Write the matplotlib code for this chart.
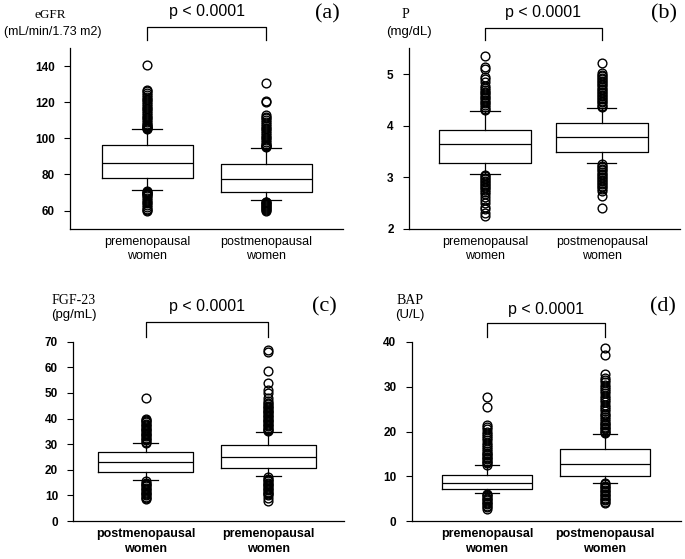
import matplotlib
matplotlib.use("Agg")
import matplotlib.pyplot as plt
import matplotlib.transforms as mtransforms

# ---- data ----
egfr_groups = ["premenopausal\nwomen", "postmenopausal\nwomen"]
egfr_q = [(78.1, 86.2, 96.5), (70.1, 77.4, 85.7)]          # q1, median, q3
egfr_whis = [(71.2, 104.9), (65.7, 94.6)]
egfr_fliers_pre = [105, 105.5, 106, 106.5, 107, 107.5, 108, 109, 110, 111, 112, 113, 114,
                   115, 116, 117, 118, 119, 120, 121, 122, 123, 124, 125, 126, 127, 140.5,
                   71, 70.5, 70, 69.5, 69, 68.5, 68, 67, 66, 65, 64, 63, 62, 61, 60.5, 60]
egfr_fliers_post = [95, 95.5, 96, 96.5, 97, 98, 99, 100, 101, 102, 103, 104, 105, 106, 107,
                    108, 109, 110, 111, 112, 113, 120, 120.5, 130.5,
                    65, 64.5, 64, 63.5, 63, 62.5, 62, 61.5, 61, 60.5, 60]

p_groups = ["premenopausal\nwomen", "postmenopausal\nwomen"]
p_q = [(3.28, 3.65, 3.92), (3.49, 3.78, 4.06)]
p_whis = [(3.07, 4.28), (3.27, 4.34)]
p_fliers_pre = [4.3, 4.33, 4.36, 4.4, 4.43, 4.46, 4.5, 4.53, 4.56, 4.6, 4.63, 4.66, 4.7,
                4.73, 4.76, 4.85, 4.9, 4.95, 5.1, 5.13, 5.36,
                3.05, 3.02, 2.99, 2.96, 2.93, 2.9, 2.87, 2.84, 2.81, 2.78, 2.75, 2.72,
                2.68, 2.62, 2.55, 2.5, 2.43, 2.38, 2.3, 2.25]
p_fliers_post = [4.36, 4.39, 4.42, 4.45, 4.48, 4.51, 4.54, 4.57, 4.6, 4.63, 4.66, 4.69,
                 4.72, 4.75, 4.78, 4.81, 4.84, 4.87, 4.9, 4.93, 4.96, 4.99, 5.02, 5.22,
                 3.25, 3.22, 3.19, 3.16, 3.13, 3.1, 3.07, 3.04, 3.01, 2.98, 2.95, 2.92,
                 2.89, 2.86, 2.83, 2.8, 2.77, 2.74, 2.63, 2.41]

fgf_groups = ["postmenopausal\nwomen", "premenopausal\nwomen"]
fgf_q = [(19.1, 22.9, 26.8), (20.6, 25.0, 29.8)]
fgf_whis = [(15.9, 30.3), (17.5, 34.6)]
fgf_fliers_left = [30.6, 31, 31.5, 32, 32.5, 33, 33.5, 34, 34.5, 35, 35.5, 36, 36.5, 37,
                   37.5, 38, 38.5, 39, 39.5, 40, 47.9,
                   15.5, 15, 14.5, 14, 13.5, 13, 12.5, 12, 11.5, 11, 10.5, 10, 9.5, 9, 8.5]
fgf_fliers_right = [35, 35.5, 36, 36.5, 37, 37.5, 38, 38.5, 39, 39.5, 40, 40.5, 41, 41.5,
                    42, 42.5, 43, 43.5, 44, 44.5, 45, 45.5, 46, 47, 47.9, 49.9, 51.2, 54,
                    58.7, 65.8, 66.8,
                    17, 16.5, 16, 15.5, 15, 14.5, 14, 13.5, 13, 12.5, 12, 11.5, 11, 10.5,
                    10, 9, 8]

bap_groups = ["premenopausal\nwomen", "postmenopausal\nwomen"]
bap_q = [(7.2, 8.5, 10.35), (10.1, 12.7, 16.0)]
bap_whis = [(6.2, 12.5), (8.6, 19.5)]
bap_fliers_pre = [12.6, 12.9, 13.2, 13.5, 13.8, 14.1, 14.4, 14.7, 15, 15.3, 15.6, 16,
                  16.5, 17, 17.5, 18, 18.5, 19, 19.5, 20, 20.5, 21, 21.5, 25.5, 27.6,
                  6.1, 5.8, 5.5, 5.2, 4.9, 4.6, 4.3, 4, 3.7, 3.4, 3.1, 2.7]
bap_fliers_post = [19.6, 19.9, 20.2, 20.5, 20.8, 21.1, 21.4, 21.7, 22, 22.4, 22.8, 23.2,
                   23.6, 24, 24.5, 25, 25.5, 26, 26.5, 27, 27.5, 28, 28.5, 29, 29.5, 30,
                   30.5, 31, 31.5, 32, 32.8, 37.1, 38.6,
                   8.5, 8.2, 7.9, 7.6, 7.3, 7, 6.7, 6.4, 6.1, 5.8, 5.5, 5.2, 4.9, 4.6,
                   4.3, 4.0]

W, H = 685, 559


def px_axes(left, right, bottom, top):
    return [left / W, 1 - bottom / H, (right - left) / W, (bottom - top) / H]


def make_stats(qs, whis, fliers):
    out = []
    for (q1, med, q3), (lo, hi), fl in zip(qs, whis, fliers):
        out.append(dict(q1=q1, med=med, q3=q3, whislo=lo, whishi=hi, fliers=fl))
    return out


def draw_panel(fig, rect, stats, groups, ylim, yticks, xlim, width, capw,
               bracket, bold_x=False):
    ax = fig.add_axes(rect)
    line = dict(color="black", linewidth=0.9)
    ax.bxp(stats, positions=[1, 2], widths=width, capwidths=capw,
           boxprops=line, whiskerprops=line, capprops=line,
           medianprops=dict(color="black", linewidth=0.9),
           flierprops=dict(marker="o", markerfacecolor="none",
                           markeredgecolor="black", markersize=6.3,
                           markeredgewidth=1.0))
    ax.set_xlim(*xlim)
    ax.set_ylim(*ylim)
    ax.set_yticks(yticks)
    ax.set_xticks([1, 2])
    ax.set_xticklabels(groups, family=["Liberation Sans", "DejaVu Sans"], fontsize=9,
                       fontweight="bold" if bold_x else "normal", linespacing=1.3)
    for lab in ax.get_yticklabels():
        lab.set_family(["Liberation Sans Narrow", "Liberation Sans", "DejaVu Sans"])
        lab.set_fontweight("bold")
        lab.set_fontsize(8.5)
    ax.tick_params(axis="y", direction="out", length=4, width=0.8, pad=7)
    ax.tick_params(axis="x", length=0, pad=5)
    for s in ("top", "right"):
        ax.spines[s].set_visible(False)
    for s in ("left", "bottom"):
        ax.spines[s].set_linewidth(0.9)

    # significance bracket above the boxes
    y_leg, y_top, y_txt = bracket
    tr = mtransforms.blended_transform_factory(ax.transData, ax.transAxes)
    ax.plot([1, 1, 2, 2], [y_leg, y_top, y_top, y_leg], color="black",
            linewidth=0.9, transform=tr, clip_on=False)
    ax.text(1.5, y_txt, "p < 0.0001", transform=tr, ha="center", va="center",
            fontsize=11.5, family=["Liberation Sans", "DejaVu Sans"])
    return ax


fig = plt.figure(figsize=(W / 100, H / 100), dpi=100)

draw_panel(fig, px_axes(70.3, 343, 228.7, 48),
           make_stats(egfr_q, egfr_whis, [egfr_fliers_pre, egfr_fliers_post]),
           egfr_groups, (50, 150), [60, 80, 100, 120, 140], (0.355, 2.647),
           0.765, 0.25, (1.044, 1.115, 1.2))
draw_panel(fig, px_axes(409, 680, 228.7, 48.3),
           make_stats(p_q, p_whis, [p_fliers_pre, p_fliers_post]),
           p_groups, (2, 5.5), [2, 3, 4, 5], (0.349, 2.671),
           0.79, 0.25, (1.044, 1.115, 1.2))
draw_panel(fig, px_axes(73.3, 344, 521, 341.7),
           make_stats(fgf_q, fgf_whis, [fgf_fliers_left, fgf_fliers_right]),
           fgf_groups, (0, 70), [0, 10, 20, 30, 40, 50, 60, 70], (0.412, 2.616),
           0.77, 0.2, (1.028, 1.108, 1.195), bold_x=True)
draw_panel(fig, px_axes(411.7, 681, 521, 342),
           make_stats(bap_q, bap_whis, [bap_fliers_pre, bap_fliers_post]),
           bap_groups, (0, 40), [0, 10, 20, 30, 40], (0.362, 2.644),
           0.76, 0.2, (1.028, 1.105, 1.18), bold_x=True)

# panel letters and axis titles (figure pixel positions)
serif = ["Liberation Serif", "DejaVu Serif"]
sans = ["Liberation Sans", "DejaVu Sans"]


def ftext(x, y, s, **kw):
    fig.text(x / W, 1 - y / H, s, ha="center", va="center", **kw)


for x, y, s in [(327, 14, "(a)"), (664, 14, "(b)"), (324, 307, "(c)"), (663, 307, "(d)")]:
    ftext(x, y, s, fontsize=16, family=serif)

ftext(50, 15, "eGFR", fontsize=9.5, family=serif)
ftext(53, 32, "(mL/min/1.73 m2)", fontsize=9, family=sans)
ftext(405, 15, "P", fontsize=10, family=serif)
ftext(409, 32, "(mg/dL)", fontsize=9.5, family=sans)
ftext(74, 301, "FGF-23", fontsize=10, family=serif)
ftext(74, 315, "(pg/mL)", fontsize=9.5, family=sans)
ftext(410, 301, "BAP", fontsize=10, family=serif)
ftext(410, 315, "(U/L)", fontsize=9.5, family=sans)

fig.savefig("out.png", dpi=100)
